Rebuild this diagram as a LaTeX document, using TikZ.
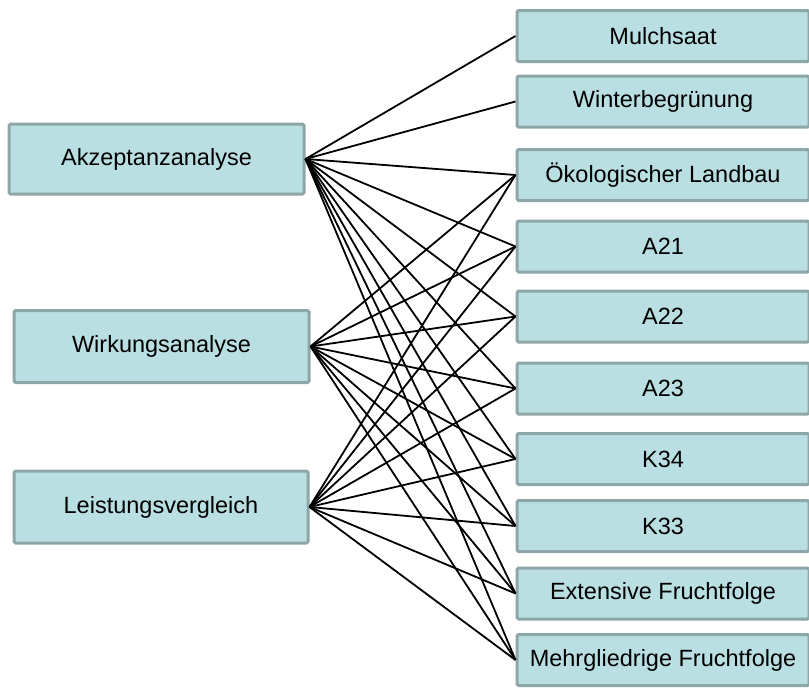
\documentclass[tikz,border=0pt]{standalone}
\usepackage{fontspec}
\setmainfont{Liberation Sans}
\definecolor{boxfill}{HTML}{B9DFE2}
\definecolor{boxline}{HTML}{8DA6A8}
\begin{document}
\begin{tikzpicture}[x=1pt,y=-1pt,
  box/.style={draw=boxline, line width=3pt, fill=boxfill, rounded corners=1.5pt,
    inner sep=0pt, font=\fontsize{23.5}{28}\selectfont},
  link/.style={draw=black, line width=1.8pt}]
\useasboundingbox (0,0) rectangle (809,688);
% left boxes
\node[box, minimum width=295pt, minimum height=70pt] (akz) at (156.5,159) {Akzeptanzanalyse};
\node[box, minimum width=295pt, minimum height=72pt] (wir) at (161.5,346.5) {Wirkungsanalyse};
\node[box, minimum width=294pt, minimum height=72pt] (lei) at (161,507) {Leistungsvergleich};
% right boxes
\begin{scope}[every node/.style={box, minimum width=292pt, minimum height=51pt}]
\node (mul) at (663,36) {Mulchsaat};
\node (win) at (663,101.5) {Winterbegrünung};
\node (oek) at (663,175) {Ökologischer Landbau};
\node (a21) at (663,246.5) {A21};
\node (a22) at (663,316.5) {A22};
\node (a23) at (663,388.5) {A23};
\node (k34) at (663,459) {K34};
\node (k33) at (663,526) {K33};
\node (ext) at (663,593.5) {Extensive Fruchtfolge};
\node (meh) at (663,660) {Mehrgliedrige Fruchtfolge};
\end{scope}
% connectors
\foreach \t in {mul,win,oek,a21,a22,a23,k34,k33,ext,meh}
  \draw[link] (akz.east) -- (\t.west);
\foreach \s in {wir,lei}
  \foreach \t in {oek,a21,a22,a23,k34,k33,ext,meh}
    \draw[link] (\s.east) -- (\t.west);
\end{tikzpicture}
\end{document}
